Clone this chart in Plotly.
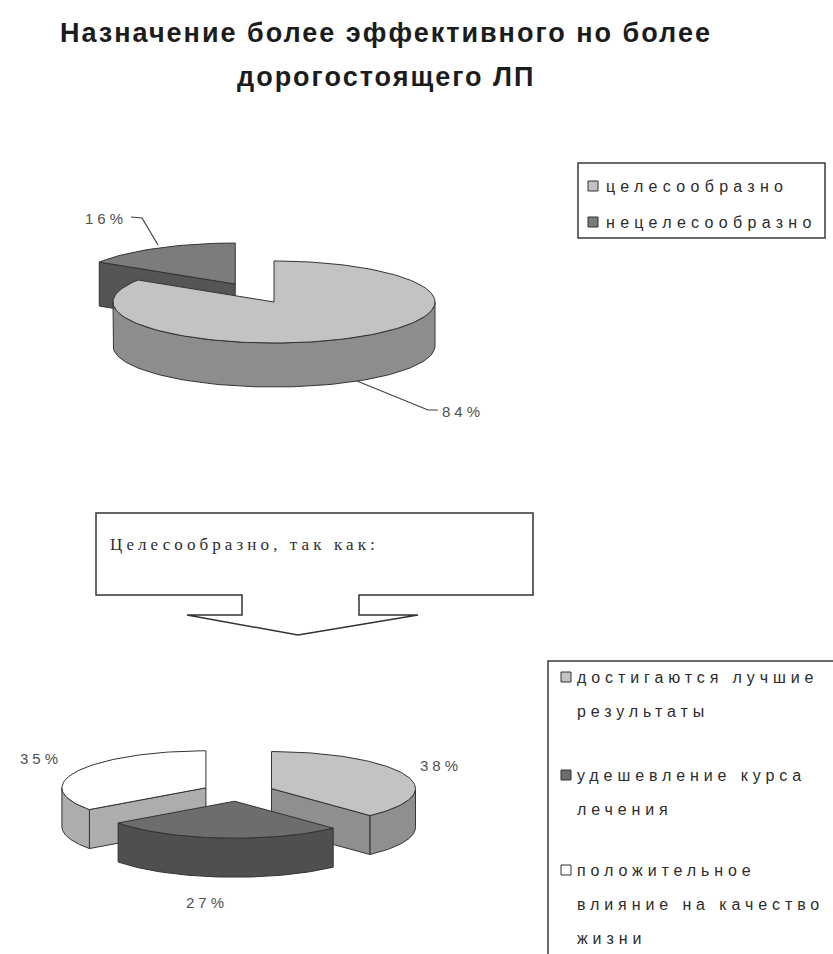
import numpy as np
import plotly.graph_objects as go

# ---- data -------------------------------------------------------------
title_lines = ["Назначение более эффективного но более", "дорогостоящего ЛП"]

top_labels = ["целесообразно", "нецелесообразно"]
top_values = [84, 16]
top_pull = [0.0, 0.5]
top_face_colors = ["#c3c3c3", "#7c7c7c"]
top_side_colors = ["#8d8d8d", "#555555"]

callout_text = "Целесообразно, так как:"

bottom_labels = ["достигаются лучшие\nрезультаты",
                 "удешевление курса\nлечения",
                 "положительное\nвлияние на качество\nжизни"]
bottom_values = [38, 27, 35]
bottom_pull = [0.25, 0.25, 0.25]
bottom_face_colors = ["#c3c3c3", "#6d6d6d", "#ffffff"]
bottom_side_colors = ["#8f8f8f", "#4f4f4f", "#adadad"]

W, H = 833, 954
EDGE = "#333333"


def spaced(text, px):
    return f'<span style="letter-spacing:{px}px">{text}</span>'


def pie3d(values, pulls, cx, cy, rx, ry, depth, face_colors, side_colors):
    """Build the polygons of a tilted, extruded pie, back slices first."""
    total = float(sum(values))
    bounds = np.concatenate([[0.0], np.cumsum(values) / total * 360.0])
    slices = []
    for i in range(len(values)):
        a, b = bounds[i], bounds[i + 1]
        mid = np.radians((a + b) / 2)
        ox = cx + pulls[i] * rx * np.sin(mid)
        oy = cy - pulls[i] * ry * np.cos(mid)
        slices.append((oy, i, a, b, ox))
    slices.sort()

    traces = []

    def rim(ox, oy, ang_deg, dz=0.0):
        t = np.radians(ang_deg)
        return ox + rx * np.sin(t), oy - ry * np.cos(t) + dz

    def poly(xs, ys, color):
        traces.append(go.Scatter(
            x=list(xs) + [xs[0]], y=list(ys) + [ys[0]], mode="lines",
            fill="toself", fillcolor=color,
            line=dict(color=EDGE, width=1), hoverinfo="skip",
            showlegend=False))

    for oy, i, a, b, ox in slices:
        # radial cut faces that look toward the viewer
        for ang, visible in ((a, np.sin(np.radians(a)) < -1e-6),
                             (b, np.sin(np.radians(b)) > 1e-6)):
            if visible:
                px, py = rim(ox, oy, ang)
                poly([ox, px, px, ox], [oy, py, py + depth, oy + depth],
                     side_colors[i])
        # outer wall on the front half of the ellipse
        lo, hi = max(a, 90.0), min(b, 270.0)
        if hi > lo:
            ang = np.linspace(lo, hi, 80)
            tx, ty = rim(ox, oy, ang)
            xs = np.concatenate([tx, tx[::-1]])
            ys = np.concatenate([ty, (ty + depth)[::-1]])
            poly(xs, ys, side_colors[i])
        # top face
        ang = np.linspace(a, b, max(int((b - a) / 2), 10))
        tx, ty = rim(ox, oy, ang)
        poly(np.concatenate([[ox], tx]), np.concatenate([[oy], ty]),
             face_colors[i])
    return traces


fig = go.Figure()

for tr in pie3d(top_values, top_pull, 274, 302, 161, 41, 44,
                top_face_colors, top_side_colors):
    fig.add_trace(tr)

for tr in pie3d(bottom_values, bottom_pull, 238, 792, 144, 37, 39,
                bottom_face_colors, bottom_side_colors):
    fig.add_trace(tr)

annotations = []
shapes = []

# title
for txt, y in zip(title_lines, (33, 77)):
    annotations.append(dict(
        x=386, y=y, text=spaced(f"<b>{txt}</b>", 2.0), showarrow=False,
        xanchor="center", yanchor="middle",
        font=dict(family="Liberation Sans Narrow, Liberation Sans, Arial",
                  size=27, color="#1c1c1c")))

# percentage labels
pct_font = dict(family="Liberation Sans, Arial", size=15, color="#505050")
top_pct_pos = [(463, 411), (106, 218)]
for v, (x, y) in zip(top_values, top_pct_pos):
    annotations.append(dict(x=x, y=y, text=spaced(f"{v}%", 4), showarrow=False,
                            xanchor="center", yanchor="middle", font=pct_font))
bottom_pct_pos = [(441, 765), (207, 902), (41, 758)]
for v, (x, y) in zip(bottom_values, bottom_pct_pos):
    annotations.append(dict(x=x, y=y, text=spaced(f"{v}%", 4), showarrow=False,
                            xanchor="center", yanchor="middle", font=pct_font))

# leader lines
shapes.append(dict(type="path", path="M 131 217 L 142 218 L 158 245",
                   line=dict(color="#404040", width=1.2)))
shapes.append(dict(type="path", path="M 357 381 L 428 410 L 438 410",
                   line=dict(color="#404040", width=1.2)))

# top legend
shapes.append(dict(type="rect", x0=578, y0=163, x1=825, y1=238,
                   line=dict(color="#3a3a3a", width=1.5), fillcolor="white"))
leg_font = dict(family="Liberation Sans, Arial", size=16, color="#2c2c2c")
for lab, col, y in zip(top_labels, top_face_colors, (186, 222)):
    shapes.append(dict(type="rect", x0=588, y0=y - 5, x1=598, y1=y + 5,
                       line=dict(color="#333333", width=1), fillcolor=col))
    annotations.append(dict(x=604, y=y, text=spaced(lab, 5.3), showarrow=False,
                            xanchor="left", yanchor="middle", font=leg_font))

# callout arrow box
shapes.append(dict(
    type="path",
    path=("M 96 513 L 533 513 L 533 595 L 359 595 L 359 615 L 418 615 "
          "L 298 635 L 187 615 L 242 615 L 242 595 L 96 595 Z"),
    line=dict(color="#333333", width=1.5), fillcolor="white", layer="below"))
annotations.append(dict(
    x=108, y=544, text=spaced(callout_text, 4.1), showarrow=False,
    xanchor="left", yanchor="middle",
    font=dict(family="Liberation Serif, Times New Roman", size=17,
              color="#2e2e2e")))

# bottom legend (runs past the page edge)
shapes.append(dict(type="rect", x0=548, y0=661, x1=850, y1=975,
                   line=dict(color="#3a3a3a", width=1.5), fillcolor="white"))
item_tops = (677, 775, 870)
for lab, col, y0 in zip(bottom_labels, bottom_face_colors, item_tops):
    shapes.append(dict(type="rect", x0=561, y0=y0 - 5, x1=571, y1=y0 + 5,
                       line=dict(color="#333333", width=1), fillcolor=col))
    for k, line in enumerate(lab.split("\n")):
        annotations.append(dict(
            x=575, y=y0 + k * 34, text=spaced(line, 4.9), showarrow=False,
            xanchor="left", yanchor="middle", font=leg_font))

fig.update_layout(
    width=W, height=H, margin=dict(l=0, r=0, t=0, b=0),
    paper_bgcolor="white", plot_bgcolor="white",
    xaxis=dict(range=[0, W], visible=False, fixedrange=True),
    yaxis=dict(range=[H, 0], visible=False, fixedrange=True),
    shapes=shapes, annotations=annotations, showlegend=False,
)

fig.write_html("out.html")
